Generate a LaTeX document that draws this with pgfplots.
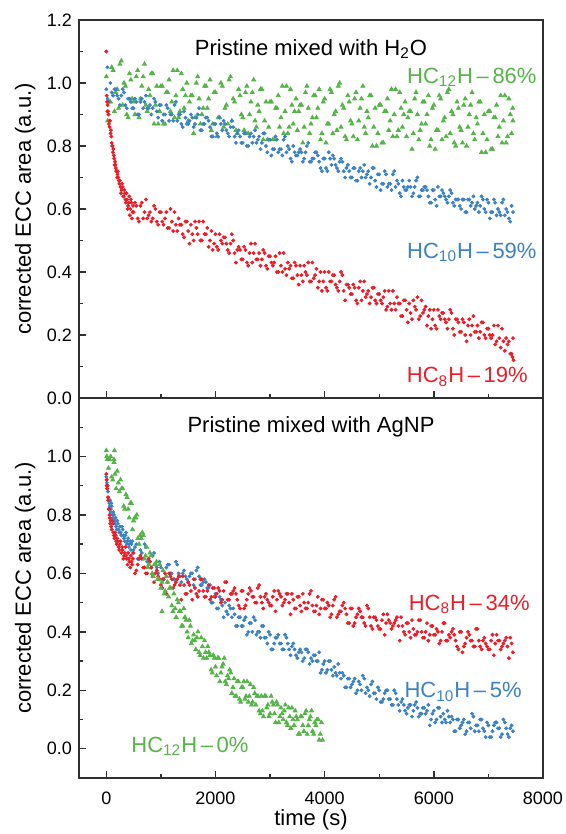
\documentclass[border=0pt]{standalone}
\usepackage{pgfplots}
\pgfplotsset{compat=1.18}
\usepackage{fontspec}
\setmainfont{Liberation Sans}
\definecolor{cred}{HTML}{EB1E28}
\definecolor{cblue}{HTML}{3C82C3}
\definecolor{cgreen}{HTML}{55B448}
\definecolor{axgray}{HTML}{303030}

\pgfplotsset{
  panel/.style={
    scale only axis, width=232pt,
    xmin=-500, xmax=8000,
    xtick={0,2000,...,8000}, minor x tick num=1,
    tick pos=left, tick align=inside,
    major tick length=3.5pt, minor tick length=2pt,
    axis line style={draw=axgray, line width=0.9pt},
    tick style={draw=axgray, line width=0.7pt},
    tick label style={font=\fontsize{9}{11}\selectfont, text=black},
    label style={font=\fontsize{11}{13}\selectfont},
    /pgf/number format/assume math mode=true,
    /pgf/number format/1000 sep={},
    scaled x ticks=false, scaled y ticks=false,
    yticklabel style={/pgf/number format/.cd, fixed, fixed zerofill, precision=1},
    ylabel={corrected ECC area (a.u.)},
    ylabel style={at={(rel axis cs:-0.116,0.5)}, anchor=center, rotate=0},
  },
  rd/.style={only marks, mark=*, mark size=0.75pt, color=cred},
  bl/.style={only marks, mark=*, mark size=0.75pt, color=cblue},
  gr/.style={only marks, mark=triangle*, mark size=1.15pt, color=cgreen},
}
\tikzset{lbl/.style={inner sep=0pt, font=\fontsize{11}{13}\selectfont}}

\begin{document}
\begin{tikzpicture}

% ---- bottom panel: mixed with AgNP
\begin{axis}[panel, at={(0,0)}, anchor=south west, height=190pt,
  ymin=-0.1, ymax=1.2, ytick={0,0.2,...,1.0},
  minor ytick={0.1,0.3,0.5,0.7,0.9,1.1},
  xticklabel style={yshift=-3.5pt},
  xlabel={time (s)},
  xlabel style={at={(rel axis cs:0.5,-0.11)}, anchor=center},
]
% HC10H
\addplot[bl] coordinates {
(0,0.93)(10,0.91)(25,0.90)(40,0.86)(55,0.84)(70,0.85)(85,0.82)(100,0.83)(120,0.79)(140,0.80)(160,0.77)(180,0.76)(200,0.78)(225,0.75)(250,0.76)(275,0.73)(300,0.75)(325,0.72)(350,0.73)(375,0.70)(400,0.72)(425,0.70)(450,0.68)(475,0.71)
(500,0.68)(550,0.70)(600,0.65)(650,0.67)(700,0.70)(750,0.64)(800,0.64)(850,0.66)(900,0.63)(950,0.60)
(1000,0.62)(1050,0.58)(1100,0.62)(1150,0.63)(1200,0.60)(1250,0.58)(1300,0.63)(1350,0.59)(1400,0.60)(1450,0.59)
(1500,0.57)(1550,0.60)(1600,0.56)(1650,0.61)(1700,0.59)(1750,0.56)(1800,0.58)(1850,0.55)(1900,0.56)(1950,0.50)
(2000,0.53)(2050,0.48)(2100,0.51)(2150,0.45)(2200,0.47)(2250,0.49)(2300,0.45)(2350,0.46)(2400,0.42)(2450,0.45)
(2500,0.42)(2550,0.45)(2600,0.40)(2650,0.43)(2700,0.45)(2750,0.39)(2800,0.40)(2850,0.42)(2900,0.38)(2950,0.36)
(3000,0.39)(3050,0.34)(3100,0.38)(3150,0.39)(3200,0.36)(3250,0.34)(3300,0.38)(3350,0.34)(3400,0.35)(3450,0.34)
(3500,0.31)(3550,0.34)(3600,0.30)(3650,0.34)(3700,0.33)(3750,0.31)(3800,0.32)(3850,0.30)(3900,0.33)(3950,0.27)
(4000,0.30)(4050,0.27)(4100,0.30)(4150,0.25)(4200,0.26)(4250,0.29)(4300,0.24)(4350,0.25)(4400,0.21)(4450,0.24)
(4500,0.22)(4550,0.24)(4600,0.20)(4650,0.22)(4700,0.25)(4750,0.19)(4800,0.20)(4850,0.22)(4900,0.19)(4950,0.17)
(5000,0.20)(5050,0.16)(5100,0.19)(5150,0.20)(5200,0.17)(5250,0.15)(5300,0.19)(5350,0.15)(5400,0.16)(5450,0.15)
(5500,0.12)(5550,0.15)(5600,0.11)(5650,0.15)(5700,0.14)(5750,0.12)(5800,0.14)(5850,0.12)(5900,0.15)(5950,0.10)
(6000,0.13)(6050,0.10)(6100,0.14)(6150,0.09)(6200,0.10)(6250,0.13)(6300,0.09)(6350,0.10)(6400,0.06)(6450,0.10)
(6500,0.08)(6550,0.10)(6600,0.06)(6650,0.09)(6700,0.12)(6750,0.06)(6800,0.08)(6850,0.10)(6900,0.07)(6950,0.04)
(7000,0.08)(7050,0.04)(7100,0.08)(7150,0.09)(7200,0.07)(7250,0.05)(7300,0.09)(7350,0.05)(7400,0.07)(7450,0.06)
};
\addplot[bl] coordinates {
(5,0.92)(18,0.89)(32,0.88)(48,0.85)(62,0.83)(78,0.81)(92,0.84)(110,0.80)(130,0.81)(150,0.78)(170,0.79)(190,0.75)(212,0.77)(238,0.74)(262,0.74)(288,0.76)(312,0.73)(338,0.71)(362,0.74)(388,0.71)(412,0.69)(438,0.71)(462,0.70)(488,0.67)
(525,0.69)(575,0.65)(625,0.68)(675,0.65)(725,0.69)(775,0.65)(825,0.62)(875,0.67)(925,0.62)(975,0.64)
(1025,0.58)(1075,0.60)(1125,0.63)(1175,0.60)(1225,0.58)(1275,0.64)(1325,0.60)(1375,0.57)(1425,0.61)(1475,0.58)
(1525,0.59)(1575,0.60)(1625,0.58)(1675,0.62)(1725,0.56)(1775,0.57)(1825,0.57)(1875,0.55)(1925,0.50)(1975,0.52)
(2025,0.48)(2075,0.52)(2125,0.49)(2175,0.50)(2225,0.46)(2275,0.48)(2325,0.48)(2375,0.42)(2425,0.45)(2475,0.42)
(2525,0.44)(2575,0.39)(2625,0.43)(2675,0.40)(2725,0.44)(2775,0.40)(2825,0.38)(2875,0.42)(2925,0.38)(2975,0.40)
(3025,0.34)(3075,0.36)(3125,0.38)(3175,0.36)(3225,0.34)(3275,0.39)(3325,0.36)(3375,0.32)(3425,0.36)(3475,0.32)
(3525,0.33)(3575,0.33)(3625,0.31)(3675,0.34)(3725,0.29)(3775,0.30)(3825,0.32)(3875,0.30)(3925,0.26)(3975,0.29)
(4025,0.26)(4075,0.30)(4125,0.27)(4175,0.28)(4225,0.25)(4275,0.26)(4325,0.26)(4375,0.21)(4425,0.24)(4475,0.21)
(4525,0.23)(4575,0.19)(4625,0.23)(4675,0.20)(4725,0.24)(4775,0.21)(4825,0.18)(4875,0.23)(4925,0.19)(4975,0.21)
(5025,0.16)(5075,0.17)(5125,0.20)(5175,0.17)(5225,0.15)(5275,0.20)(5325,0.17)(5375,0.13)(5425,0.17)(5475,0.13)
(5525,0.14)(5575,0.15)(5625,0.13)(5675,0.16)(5725,0.11)(5775,0.12)(5825,0.14)(5875,0.13)(5925,0.08)(5975,0.12)
(6025,0.09)(6075,0.14)(6125,0.11)(6175,0.12)(6225,0.09)(6275,0.11)(6325,0.11)(6375,0.06)(6425,0.10)(6475,0.07)
(6525,0.09)(6575,0.05)(6625,0.09)(6675,0.07)(6725,0.11)(6775,0.08)(6825,0.06)(6875,0.10)(6925,0.06)(6975,0.09)
(7025,0.04)(7075,0.06)(7125,0.09)(7175,0.07)(7225,0.04)(7275,0.10)(7325,0.07)(7375,0.04)(7425,0.08)
};
% HC8H
\addplot[rd] coordinates {
(0,0.94)(10,0.92)(20,0.90)(35,0.85)(50,0.82)(65,0.79)(80,0.78)(100,0.75)(120,0.77)(140,0.73)(160,0.74)(180,0.71)(200,0.72)(225,0.69)(250,0.70)(275,0.67)(300,0.68)(325,0.66)(350,0.69)(375,0.65)(400,0.67)(425,0.64)(450,0.66)(475,0.63)
(500,0.67)(550,0.61)(600,0.65)(650,0.65)(700,0.62)(750,0.60)(800,0.64)(850,0.59)(900,0.60)(950,0.59)
(1000,0.56)(1050,0.58)(1100,0.53)(1150,0.60)(1200,0.58)(1250,0.56)(1300,0.58)(1350,0.56)(1400,0.59)(1450,0.53)
(1500,0.57)(1550,0.54)(1600,0.58)(1650,0.53)(1700,0.54)(1750,0.58)(1800,0.52)(1850,0.54)(1900,0.51)(1950,0.55)
(2000,0.52)(2050,0.55)(2100,0.50)(2150,0.54)(2200,0.57)(2250,0.51)(2300,0.53)(2350,0.55)(2400,0.51)(2450,0.48)
(2500,0.54)(2550,0.49)(2600,0.53)(2650,0.54)(2700,0.52)(2750,0.50)(2800,0.56)(2850,0.50)(2900,0.52)(2950,0.51)
(3000,0.49)(3050,0.52)(3100,0.47)(3150,0.54)(3200,0.52)(3250,0.50)(3300,0.53)(3350,0.50)(3400,0.53)(3450,0.48)
(3500,0.52)(3550,0.49)(3600,0.53)(3650,0.48)(3700,0.50)(3750,0.54)(3800,0.47)(3850,0.49)(3900,0.46)(3950,0.51)
(4000,0.48)(4050,0.50)(4100,0.45)(4150,0.49)(4200,0.52)(4250,0.46)(4300,0.47)(4350,0.50)(4400,0.46)(4450,0.43)
(4500,0.48)(4550,0.43)(4600,0.46)(4650,0.47)(4700,0.45)(4750,0.42)(4800,0.48)(4850,0.42)(4900,0.45)(4950,0.44)
(5000,0.41)(5050,0.44)(5100,0.39)(5150,0.46)(5200,0.43)(5250,0.42)(5300,0.44)(5350,0.42)(5400,0.45)(5450,0.40)
(5500,0.43)(5550,0.40)(5600,0.44)(5650,0.39)(5700,0.40)(5750,0.44)(5800,0.38)(5850,0.40)(5900,0.37)(5950,0.42)
(6000,0.39)(6050,0.41)(6100,0.36)(6150,0.40)(6200,0.43)(6250,0.37)(6300,0.38)(6350,0.41)(6400,0.37)(6450,0.34)
(6500,0.40)(6550,0.35)(6600,0.38)(6650,0.39)(6700,0.37)(6750,0.35)(6800,0.41)(6850,0.35)(6900,0.37)(6950,0.36)
(7000,0.34)(7050,0.37)(7100,0.32)(7150,0.39)(7200,0.37)(7250,0.35)(7300,0.37)(7350,0.35)(7400,0.38)(7450,0.33)
};
\addplot[rd] coordinates {
(5,0.90)(15,0.89)(28,0.86)(42,0.82)(58,0.80)(72,0.77)(90,0.76)(110,0.78)(130,0.74)(150,0.72)(170,0.73)(190,0.70)(212,0.71)(238,0.68)(262,0.71)(288,0.69)(312,0.65)(338,0.67)(362,0.66)(388,0.63)(412,0.65)(438,0.62)(462,0.64)(488,0.65)
(525,0.60)(575,0.63)(625,0.66)(675,0.62)(725,0.60)(775,0.65)(825,0.62)(875,0.57)(925,0.61)(975,0.58)
(1025,0.55)(1075,0.60)(1125,0.57)(1175,0.59)(1225,0.55)(1275,0.57)(1325,0.59)(1375,0.51)(1425,0.56)(1475,0.53)
(1525,0.56)(1575,0.51)(1625,0.55)(1675,0.52)(1725,0.58)(1775,0.54)(1825,0.52)(1875,0.56)(1925,0.52)(1975,0.55)
(2025,0.53)(2075,0.54)(2125,0.51)(2175,0.57)(2225,0.51)(2275,0.53)(2325,0.54)(2375,0.53)(2425,0.49)(2475,0.54)
(2525,0.48)(2575,0.51)(2625,0.55)(2675,0.52)(2725,0.50)(2775,0.55)(2825,0.52)(2875,0.48)(2925,0.53)(2975,0.50)
(3025,0.49)(3075,0.54)(3125,0.51)(3175,0.53)(3225,0.49)(3275,0.51)(3325,0.53)(3375,0.46)(3425,0.51)(3475,0.48)
(3525,0.52)(3575,0.47)(3625,0.50)(3675,0.48)(3725,0.53)(3775,0.49)(3825,0.47)(3875,0.52)(3925,0.48)(3975,0.51)
(4025,0.48)(4075,0.49)(4125,0.46)(4175,0.51)(4225,0.45)(4275,0.47)(4325,0.49)(4375,0.48)(4425,0.43)(4475,0.48)
(4525,0.42)(4575,0.45)(4625,0.48)(4675,0.45)(4725,0.43)(4775,0.49)(4825,0.45)(4875,0.41)(4925,0.45)(4975,0.42)
(5025,0.41)(5075,0.46)(5125,0.43)(5175,0.44)(5225,0.41)(5275,0.43)(5325,0.45)(5375,0.37)(5425,0.42)(5475,0.39)
(5525,0.43)(5575,0.38)(5625,0.41)(5675,0.39)(5725,0.44)(5775,0.40)(5825,0.38)(5875,0.43)(5925,0.39)(5975,0.42)
(6025,0.39)(6075,0.40)(6125,0.37)(6175,0.43)(6225,0.37)(6275,0.39)(6325,0.40)(6375,0.39)(6425,0.35)(6475,0.40)
(6525,0.33)(6575,0.36)(6625,0.40)(6675,0.37)(6725,0.35)(6775,0.41)(6825,0.37)(6875,0.34)(6925,0.38)(6975,0.35)
(7025,0.34)(7075,0.39)(7125,0.36)(7175,0.37)(7225,0.34)(7275,0.36)(7325,0.38)(7375,0.31)(7425,0.36)
};
% HC12H
\addplot[gr] coordinates {
(0,1.02)(10,1.00)(40,0.96)(80,1.00)(120,0.92)(140,0.99)(150,1.02)(160,0.94)(200,0.95)(240,0.88)(280,0.89)(320,0.83)(360,0.87)
(400,0.82)(440,0.84)(480,0.75)(520,0.79)(560,0.80)(600,0.70)(640,0.72)(680,0.73)(720,0.66)(760,0.62)
(800,0.67)(840,0.60)(880,0.63)(920,0.64)(960,0.58)(1000,0.55)(1020,0.47)(1040,0.61)(1080,0.54)(1120,0.57)(1160,0.55)
(1200,0.49)(1240,0.53)(1280,0.45)(1320,0.50)(1360,0.47)(1400,0.42)(1440,0.45)(1480,0.40)(1520,0.44)(1560,0.36)
(1600,0.39)(1640,0.34)(1680,0.40)(1720,0.32)(1760,0.35)(1800,0.37)(1840,0.31)(1880,0.33)(1920,0.27)(1960,0.32)
(2000,0.28)(2040,0.31)(2080,0.23)(2120,0.28)(2160,0.31)(2200,0.22)(2240,0.24)(2280,0.26)(2320,0.21)(2360,0.18)
(2400,0.23)(2440,0.17)(2480,0.21)(2520,0.23)(2560,0.18)(2600,0.16)(2640,0.22)(2680,0.16)(2720,0.19)(2760,0.18)
(2800,0.13)(2840,0.18)(2880,0.11)(2920,0.18)(2960,0.15)(3000,0.12)(3040,0.16)(3080,0.12)(3120,0.16)(3160,0.09)
(3200,0.14)(3240,0.10)(3280,0.15)(3320,0.08)(3360,0.11)(3400,0.14)(3440,0.08)(3480,0.11)(3520,0.05)(3560,0.11)
(3600,0.08)(3640,0.12)(3680,0.05)(3720,0.10)(3760,0.13)(3800,0.05)(3840,0.08)(3880,0.10)(3920,0.05)(3960,0.03)
};
\addplot[gr] coordinates {
(20,0.99)(60,0.99)(100,0.93)(140,0.98)(180,0.89)(220,0.91)(260,0.92)(300,0.89)(340,0.82)(380,0.86)
(420,0.79)(460,0.84)(500,0.78)(540,0.79)(580,0.72)(620,0.73)(660,0.74)(700,0.65)(740,0.69)(780,0.63)
(820,0.66)(860,0.59)(900,0.63)(940,0.58)(980,0.63)(1020,0.57)(1060,0.53)(1100,0.59)(1140,0.52)(1180,0.55)
(1220,0.47)(1260,0.48)(1300,0.51)(1340,0.47)(1380,0.42)(1420,0.48)(1460,0.44)(1500,0.38)(1540,0.42)(1580,0.37)
(1620,0.37)(1660,0.38)(1700,0.33)(1740,0.38)(1780,0.31)(1820,0.33)(1860,0.35)(1900,0.32)(1940,0.26)(1980,0.31)
(2020,0.25)(2060,0.31)(2100,0.26)(2140,0.29)(2180,0.23)(2220,0.25)(2260,0.27)(2300,0.19)(2340,0.24)(2380,0.18)
(2420,0.23)(2460,0.16)(2500,0.21)(2540,0.17)(2580,0.23)(2620,0.18)(2660,0.15)(2700,0.21)(2740,0.15)(2780,0.18)
(2820,0.12)(2860,0.13)(2900,0.18)(2940,0.14)(2980,0.11)(3020,0.18)(3060,0.15)(3100,0.09)(3140,0.15)(3180,0.11)
(3220,0.12)(3260,0.13)(3300,0.09)(3340,0.14)(3380,0.07)(3420,0.10)(3460,0.13)(3500,0.10)(3540,0.05)(3580,0.11)
(3620,0.06)(3660,0.13)(3700,0.08)(3740,0.11)(3780,0.06)(3820,0.09)(3860,0.10)(3900,0.03)(3940,0.09)
};
\node[lbl, anchor=base] at (rel axis cs:0.5,0.908) {Pristine mixed with AgNP};
\node[lbl, anchor=base east, text=cred] at (rel axis cs:0.972,0.442) {HC\textsubscript{8}H\,--\,34\%};
\node[lbl, anchor=base east, text=cblue] at (rel axis cs:0.955,0.211) {HC\textsubscript{10}H\,--\,5\%};
\node[lbl, anchor=base west, text=cgreen] at (rel axis cs:0.112,0.068) {HC\textsubscript{12}H\,--\,0\%};
\end{axis}

% ---- top panel: mixed with H2O
\begin{axis}[panel, at={(0,190pt)}, anchor=south west, height=189pt,
  ymin=0, ymax=1.2, ytick={0,0.2,...,1.2},
  minor ytick={0.1,0.3,0.5,0.7,0.9,1.1},
  xticklabels={},
]
% HC12H
\addplot[gr] coordinates {
(0,1.02)(50,0.94)(100,1.05)(150,0.91)(200,0.98)(250,1.06)(300,0.93)(350,0.99)(400,0.89)(450,1.01)
(500,0.94)(550,1.02)(600,0.89)(650,0.99)(700,1.06)(750,0.91)(800,0.96)(850,1.03)(900,0.93)(950,0.87)
(1000,0.99)(1050,0.87)(1100,0.97)(1150,1.01)(1200,0.94)(1250,0.89)(1300,1.04)(1350,0.91)(1400,0.98)(1450,0.96)
(1500,0.88)(1550,0.96)(1600,0.84)(1650,1.00)(1700,0.95)(1750,0.90)(1800,0.99)(1850,0.92)(1900,1.01)(1950,0.87)
(2000,0.97)(2050,0.89)(2100,1.00)(2150,0.86)(2200,0.93)(2250,1.01)(2300,0.88)(2350,0.94)(2400,0.84)(2450,0.96)
(2500,0.89)(2550,0.97)(2600,0.84)(2650,0.94)(2700,1.01)(2750,0.86)(2800,0.91)(2850,0.98)(2900,0.88)(2950,0.82)
(3000,0.94)(3050,0.82)(3100,0.92)(3150,0.96)(3200,0.89)(3250,0.84)(3300,0.99)(3350,0.86)(3400,0.93)(3450,0.91)
(3500,0.85)(3550,0.93)(3600,0.81)(3650,0.97)(3700,0.92)(3750,0.87)(3800,0.96)(3850,0.89)(3900,0.98)(3950,0.84)
(4000,0.95)(4050,0.87)(4100,0.98)(4150,0.84)(4200,0.91)(4250,0.99)(4300,0.86)(4350,0.92)(4400,0.82)(4450,0.94)
(4500,0.87)(4550,0.95)(4600,0.82)(4650,0.92)(4700,0.99)(4750,0.84)(4800,0.89)(4850,0.96)(4900,0.86)(4950,0.80)
(5000,0.93)(5050,0.81)(5100,0.91)(5150,0.95)(5200,0.88)(5250,0.83)(5300,0.98)(5350,0.85)(5400,0.92)(5450,0.90)
(5500,0.83)(5550,0.91)(5600,0.79)(5650,0.95)(5700,0.90)(5750,0.85)(5800,0.94)(5850,0.87)(5900,0.96)(5950,0.82)
(6000,0.93)(6050,0.85)(6100,0.96)(6150,0.82)(6200,0.89)(6250,0.97)(6300,0.84)(6350,0.90)(6400,0.80)(6450,0.92)
(6500,0.85)(6550,0.93)(6600,0.80)(6650,0.90)(6700,0.97)(6750,0.82)(6800,0.87)(6850,0.94)(6900,0.84)(6950,0.78)
(7000,0.91)(7050,0.79)(7100,0.89)(7150,0.93)(7200,0.86)(7250,0.81)(7300,0.96)(7350,0.83)(7400,0.90)(7450,0.88)
};
\addplot[gr] coordinates {
(25,0.88)(75,0.94)(125,1.04)(175,0.97)(225,0.92)(275,1.07)(325,1.00)(375,0.90)(425,1.03)(475,0.95)
(525,0.90)(575,1.04)(625,0.95)(675,1.02)(725,0.93)(775,0.98)(825,1.03)(875,0.87)(925,0.99)(975,0.91)
(1025,0.99)(1075,0.87)(1125,0.97)(1175,0.91)(1225,1.04)(1275,0.96)(1325,0.89)(1375,1.03)(1425,0.92)(1475,1.00)
(1525,0.94)(1575,0.96)(1625,0.89)(1675,1.02)(1725,0.87)(1775,0.92)(1825,0.99)(1875,0.95)(1925,0.85)(1975,0.97)
(2025,0.83)(2075,0.89)(2125,0.99)(2175,0.92)(2225,0.87)(2275,1.02)(2325,0.95)(2375,0.85)(2425,0.98)(2475,0.90)
(2525,0.85)(2575,0.99)(2625,0.90)(2675,0.97)(2725,0.88)(2775,0.93)(2825,0.98)(2875,0.82)(2925,0.94)(2975,0.86)
(3025,0.94)(3075,0.82)(3125,0.92)(3175,0.86)(3225,0.99)(3275,0.91)(3325,0.84)(3375,0.98)(3425,0.87)(3475,0.95)
(3525,0.91)(3575,0.93)(3625,0.86)(3675,0.99)(3725,0.84)(3775,0.89)(3825,0.96)(3875,0.92)(3925,0.82)(3975,0.94)
(4025,0.81)(4075,0.87)(4125,0.97)(4175,0.90)(4225,0.85)(4275,1.00)(4325,0.93)(4375,0.83)(4425,0.96)(4475,0.88)
(4525,0.83)(4575,0.97)(4625,0.88)(4675,0.95)(4725,0.86)(4775,0.91)(4825,0.96)(4875,0.80)(4925,0.92)(4975,0.84)
(5025,0.93)(5075,0.81)(5125,0.91)(5175,0.85)(5225,0.98)(5275,0.90)(5325,0.83)(5375,0.97)(5425,0.86)(5475,0.94)
(5525,0.89)(5575,0.91)(5625,0.84)(5675,0.97)(5725,0.82)(5775,0.87)(5825,0.94)(5875,0.90)(5925,0.80)(5975,0.92)
(6025,0.79)(6075,0.85)(6125,0.95)(6175,0.88)(6225,0.83)(6275,0.98)(6325,0.91)(6375,0.81)(6425,0.94)(6475,0.86)
(6525,0.81)(6575,0.95)(6625,0.86)(6675,0.93)(6725,0.84)(6775,0.89)(6825,0.94)(6875,0.78)(6925,0.90)(6975,0.82)
(7025,0.91)(7075,0.79)(7125,0.89)(7175,0.83)(7225,0.96)(7275,0.88)(7325,0.81)(7375,0.95)(7425,0.84)(7445,0.92)
};
% HC10H
\addplot[bl] coordinates {
(0,0.98)(20,1.05)(50,0.94)(100,0.97)(150,0.98)(200,0.96)(250,0.93)(300,0.98)(350,0.93)(400,0.95)(450,0.94)
(500,0.92)(550,0.94)(600,0.90)(650,0.95)(700,0.94)(750,0.92)(800,0.93)(850,0.92)(900,0.94)(950,0.89)
(1000,0.93)(1050,0.90)(1100,0.93)(1150,0.88)(1200,0.90)(1250,0.93)(1300,0.88)(1350,0.90)(1400,0.86)(1450,0.89)
(1500,0.87)(1550,0.90)(1600,0.86)(1650,0.89)(1700,0.92)(1750,0.85)(1800,0.87)(1850,0.89)(1900,0.86)(1950,0.83)
(2000,0.87)(2050,0.83)(2100,0.87)(2150,0.88)(2200,0.85)(2250,0.83)(2300,0.88)(2350,0.83)(2400,0.84)(2450,0.83)
(2500,0.81)(2550,0.84)(2600,0.80)(2650,0.84)(2700,0.83)(2750,0.81)(2800,0.83)(2850,0.81)(2900,0.84)(2950,0.78)
(3000,0.82)(3050,0.79)(3100,0.83)(3150,0.78)(3200,0.79)(3250,0.82)(3300,0.78)(3350,0.79)(3400,0.75)(3450,0.78)
(3500,0.77)(3550,0.79)(3600,0.75)(3650,0.78)(3700,0.81)(3750,0.75)(3800,0.76)(3850,0.78)(3900,0.75)(3950,0.72)
(4000,0.76)(4050,0.72)(4100,0.76)(4150,0.77)(4200,0.74)(4250,0.72)(4300,0.76)(4350,0.72)(4400,0.73)(4450,0.72)
(4500,0.70)(4550,0.73)(4600,0.69)(4650,0.73)(4700,0.72)(4750,0.70)(4800,0.72)(4850,0.70)(4900,0.73)(4950,0.67)
(5000,0.71)(5050,0.68)(5100,0.72)(5150,0.67)(5200,0.68)(5250,0.71)(5300,0.67)(5350,0.68)(5400,0.64)(5450,0.67)
(5500,0.66)(5550,0.69)(5600,0.64)(5650,0.67)(5700,0.70)(5750,0.64)(5800,0.66)(5850,0.67)(5900,0.64)(5950,0.62)
(6000,0.66)(6050,0.61)(6100,0.64)(6150,0.66)(6200,0.64)(6250,0.62)(6300,0.66)(6350,0.62)(6400,0.63)(6450,0.63)
(6500,0.60)(6550,0.63)(6600,0.59)(6650,0.63)(6700,0.62)(6750,0.60)(6800,0.62)(6850,0.61)(6900,0.63)(6950,0.59)
(7000,0.62)(7050,0.59)(7100,0.63)(7150,0.58)(7200,0.59)(7250,0.62)(7300,0.58)(7350,0.59)(7400,0.56)(7450,0.59)
};
\addplot[bl] coordinates {
(25,0.95)(75,1.00)(125,0.96)(175,0.98)(225,0.95)(275,0.96)(325,0.97)(375,0.92)(425,0.95)(475,0.92)
(525,0.95)(575,0.90)(625,0.94)(675,0.92)(725,0.96)(775,0.92)(825,0.90)(875,0.95)(925,0.91)(975,0.93)
(1025,0.88)(1075,0.90)(1125,0.92)(1175,0.90)(1225,0.88)(1275,0.94)(1325,0.90)(1375,0.87)(1425,0.91)(1475,0.87)
(1525,0.88)(1575,0.89)(1625,0.87)(1675,0.90)(1725,0.85)(1775,0.87)(1825,0.89)(1875,0.88)(1925,0.83)(1975,0.87)
(2025,0.84)(2075,0.89)(2125,0.85)(2175,0.87)(2225,0.84)(2275,0.86)(2325,0.86)(2375,0.81)(2425,0.85)(2475,0.81)
(2525,0.84)(2575,0.80)(2625,0.83)(2675,0.81)(2725,0.85)(2775,0.82)(2825,0.79)(2875,0.84)(2925,0.80)(2975,0.82)
(3025,0.77)(3075,0.79)(3125,0.82)(3175,0.79)(3225,0.77)(3275,0.83)(3325,0.80)(3375,0.76)(3425,0.80)(3475,0.77)
(3525,0.78)(3575,0.78)(3625,0.76)(3675,0.80)(3725,0.75)(3775,0.76)(3825,0.78)(3875,0.77)(3925,0.73)(3975,0.76)
(4025,0.73)(4075,0.78)(4125,0.74)(4175,0.76)(4225,0.73)(4275,0.75)(4325,0.75)(4375,0.70)(4425,0.74)(4475,0.70)
(4525,0.73)(4575,0.69)(4625,0.72)(4675,0.70)(4725,0.74)(4775,0.71)(4825,0.68)(4875,0.73)(4925,0.69)(4975,0.71)
(5025,0.66)(5075,0.68)(5125,0.71)(5175,0.68)(5225,0.66)(5275,0.72)(5325,0.69)(5375,0.65)(5425,0.69)(5475,0.66)
(5525,0.67)(5575,0.67)(5625,0.65)(5675,0.69)(5725,0.64)(5775,0.66)(5825,0.67)(5875,0.66)(5925,0.62)(5975,0.66)
(6025,0.63)(6075,0.67)(6125,0.64)(6175,0.65)(6225,0.63)(6275,0.64)(6325,0.65)(6375,0.61)(6425,0.63)(6475,0.61)
(6525,0.63)(6575,0.59)(6625,0.63)(6675,0.61)(6725,0.64)(6775,0.61)(6825,0.59)(6875,0.64)(6925,0.60)(6975,0.63)
(7025,0.57)(7075,0.59)(7125,0.62)(7175,0.60)(7225,0.58)(7275,0.63)(7325,0.60)(7375,0.57)(7425,0.61)
};
% HC8H
\addplot[rd] coordinates {
(0,1.10)(15,0.94)(25,0.93)(40,0.90)(55,0.88)(70,0.88)(85,0.85)(100,0.81)(115,0.80)(130,0.79)(145,0.76)(160,0.75)(175,0.73)(190,0.72)(205,0.71)(220,0.70)(240,0.68)(260,0.67)(280,0.66)(300,0.67)(320,0.64)(340,0.65)(360,0.62)(380,0.63)(400,0.61)(420,0.64)(440,0.60)(460,0.62)(480,0.59)
(500,0.59)(550,0.61)(600,0.56)(650,0.62)(700,0.59)(750,0.57)(800,0.59)(850,0.57)(900,0.60)(950,0.55)
(1000,0.59)(1050,0.55)(1100,0.59)(1150,0.54)(1200,0.56)(1250,0.59)(1300,0.53)(1350,0.55)(1400,0.52)(1450,0.56)
(1500,0.53)(1550,0.55)(1600,0.50)(1650,0.54)(1700,0.56)(1750,0.50)(1800,0.52)(1850,0.54)(1900,0.50)(1950,0.47)
(2000,0.52)(2050,0.47)(2100,0.50)(2150,0.51)(2200,0.49)(2250,0.46)(2300,0.52)(2350,0.46)(2400,0.47)(2450,0.47)
(2500,0.44)(2550,0.47)(2600,0.42)(2650,0.49)(2700,0.46)(2750,0.44)(2800,0.46)(2850,0.44)(2900,0.46)(2950,0.41)
(3000,0.45)(3050,0.42)(3100,0.45)(3150,0.40)(3200,0.42)(3250,0.46)(3300,0.39)(3350,0.41)(3400,0.38)(3450,0.43)
(3500,0.39)(3550,0.42)(3600,0.37)(3650,0.40)(3700,0.43)(3750,0.37)(3800,0.38)(3850,0.41)(3900,0.37)(3950,0.34)
(4000,0.40)(4050,0.34)(4100,0.37)(4150,0.39)(4200,0.36)(4250,0.34)(4300,0.40)(4350,0.34)(4400,0.36)(4450,0.35)
(4500,0.33)(4550,0.35)(4600,0.30)(4650,0.37)(4700,0.34)(4750,0.32)(4800,0.34)(4850,0.32)(4900,0.35)(4950,0.30)
(5000,0.33)(5050,0.30)(5100,0.34)(5150,0.29)(5200,0.30)(5250,0.34)(5300,0.28)(5350,0.30)(5400,0.26)(5450,0.31)
(5500,0.28)(5550,0.30)(5600,0.25)(5650,0.29)(5700,0.32)(5750,0.26)(5800,0.27)(5850,0.29)(5900,0.26)(5950,0.22)
(6000,0.28)(6050,0.22)(6100,0.26)(6150,0.27)(6200,0.25)(6250,0.22)(6300,0.28)(6350,0.22)(6400,0.25)(6450,0.24)
(6500,0.21)(6550,0.24)(6600,0.18)(6650,0.25)(6700,0.23)(6750,0.21)(6800,0.23)(6850,0.21)(6900,0.24)(6950,0.19)
(7000,0.22)(7050,0.19)(7100,0.23)(7150,0.18)(7200,0.19)(7250,0.22)(7300,0.15)(7350,0.17)(7400,0.14)(7450,0.19)(7440,0.13)(7460,0.12)
};
\addplot[rd] coordinates {
(8,0.96)(20,0.91)(33,0.91)(48,0.87)(62,0.86)(78,0.84)(92,0.83)(108,0.80)(122,0.78)(138,0.77)(152,0.74)(168,0.74)(182,0.72)(198,0.70)(212,0.72)(230,0.69)(250,0.69)(270,0.65)(290,0.68)(310,0.64)(330,0.66)(350,0.63)(370,0.65)(390,0.60)(410,0.62)(430,0.58)(450,0.63)(470,0.57)(490,0.61)
(525,0.62)(575,0.57)(625,0.61)(675,0.57)(725,0.63)(775,0.58)(825,0.56)(875,0.61)(925,0.56)(975,0.59)
(1025,0.56)(1075,0.57)(1125,0.54)(1175,0.60)(1225,0.53)(1275,0.55)(1325,0.57)(1375,0.55)(1425,0.51)(1475,0.56)
(1525,0.49)(1575,0.52)(1625,0.56)(1675,0.52)(1725,0.50)(1775,0.56)(1825,0.52)(1875,0.48)(1925,0.53)(1975,0.49)
(2025,0.48)(2075,0.52)(2125,0.49)(2175,0.51)(2225,0.47)(2275,0.49)(2325,0.50)(2375,0.43)(2425,0.48)(2475,0.44)
(2525,0.48)(2575,0.43)(2625,0.46)(2675,0.43)(2725,0.49)(2775,0.44)(2825,0.42)(2875,0.47)(2925,0.42)(2975,0.45)
(3025,0.43)(3075,0.43)(3125,0.40)(3175,0.46)(3225,0.40)(3275,0.41)(3325,0.43)(3375,0.42)(3425,0.38)(3475,0.42)
(3525,0.36)(3575,0.39)(3625,0.42)(3675,0.39)(3725,0.37)(3775,0.43)(3825,0.39)(3875,0.35)(3925,0.40)(3975,0.37)
(4025,0.35)(4075,0.40)(4125,0.37)(4175,0.39)(4225,0.35)(4275,0.37)(4325,0.39)(4375,0.31)(4425,0.36)(4475,0.33)
(4525,0.36)(4575,0.31)(4625,0.35)(4675,0.31)(4725,0.37)(4775,0.33)(4825,0.30)(4875,0.35)(4925,0.31)(4975,0.33)
(5025,0.31)(5075,0.32)(5125,0.28)(5175,0.34)(5225,0.28)(5275,0.30)(5325,0.32)(5375,0.30)(5425,0.26)(5475,0.31)
(5525,0.24)(5575,0.27)(5625,0.31)(5675,0.28)(5725,0.25)(5775,0.31)(5825,0.28)(5875,0.23)(5925,0.28)(5975,0.25)
(6025,0.23)(6075,0.28)(6125,0.25)(6175,0.27)(6225,0.24)(6275,0.25)(6325,0.27)(6375,0.20)(6425,0.25)(6475,0.21)
(6525,0.25)(6575,0.20)(6625,0.23)(6675,0.20)(6725,0.26)(6775,0.21)(6825,0.19)(6875,0.24)(6925,0.20)(6975,0.22)
(7025,0.20)(7075,0.20)(7125,0.17)(7175,0.23)(7225,0.16)(7275,0.18)(7325,0.19)(7375,0.18)(7425,0.14)
};
\node[lbl, anchor=base] at (rel axis cs:0.5,0.907) {Pristine mixed with H\textsubscript{2}O};
\node[lbl, anchor=base east, text=cgreen] at (rel axis cs:0.987,0.833) {HC\textsubscript{12}H\,--\,86\%};
\node[lbl, anchor=base east, text=cblue] at (rel axis cs:0.987,0.370) {HC\textsubscript{10}H\,--\,59\%};
\node[lbl, anchor=base east, text=cred] at (rel axis cs:0.968,0.040) {HC\textsubscript{8}H\,--\,19\%};
\end{axis}

\pgfresetboundingbox
\path[use as bounding box] (-39.5pt,-28pt) rectangle (243.5pt,389pt);
\end{tikzpicture}
\end{document}
